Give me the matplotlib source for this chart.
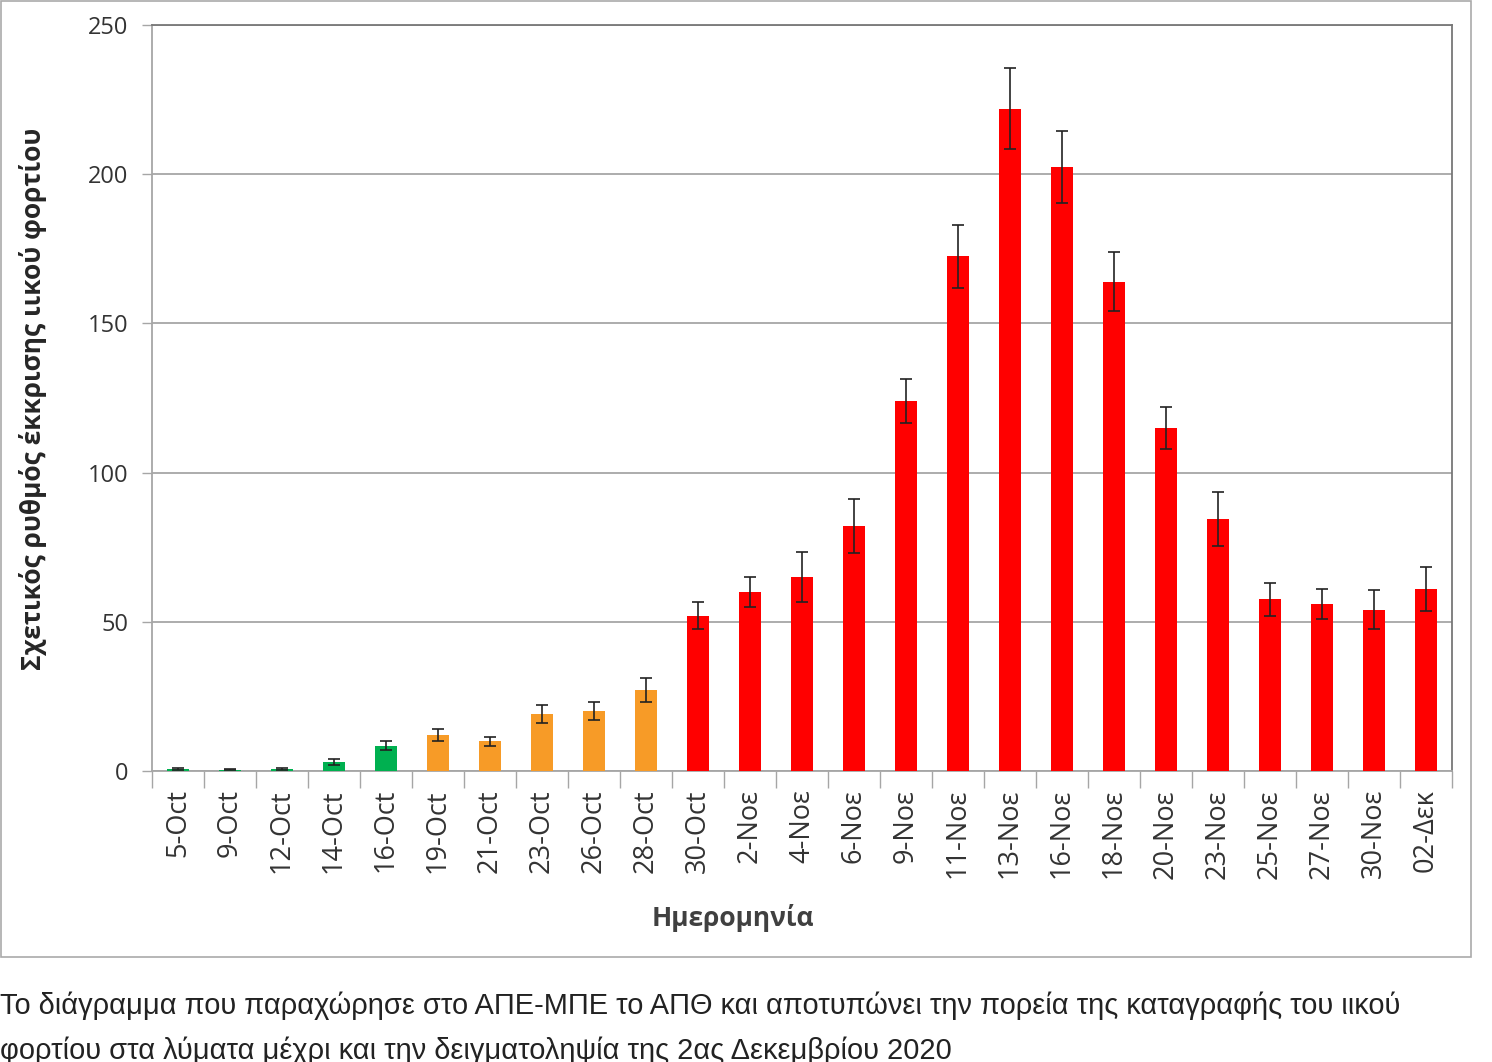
import numpy as np
import matplotlib
matplotlib.use("Agg")
import matplotlib.pyplot as plt
from matplotlib.patches import Rectangle

# δεδομένα
dates = ["5-Oct", "9-Oct", "12-Oct", "14-Oct", "16-Oct", "19-Oct", "21-Oct",
         "23-Oct", "26-Oct", "28-Oct", "30-Oct", "2-Νοε", "4-Νοε", "6-Νοε",
         "9-Νοε", "11-Νοε", "13-Νοε", "16-Νοε", "18-Νοε", "20-Νοε", "23-Νοε",
         "25-Νοε", "27-Νοε", "30-Νοε", "02-Δεκ"]
values = [0.8, 0.5, 0.6, 3.0, 8.5, 12.0, 10.0, 19.0, 20.0, 27.0, 52.0, 60.0,
          65.0, 82.0, 124.0, 172.5, 222.0, 202.5, 164.0, 115.0, 84.5, 57.5,
          56.0, 54.0, 61.0]
errors = [0.3, 0.3, 0.3, 1.0, 1.5, 2.0, 1.5, 3.0, 3.0, 4.0, 4.5, 5.0, 8.5,
          9.0, 7.5, 10.5, 13.5, 12.0, 10.0, 7.0, 9.0, 5.5, 5.0, 6.5, 7.5]
levels = ["g"] * 5 + ["o"] * 5 + ["r"] * 15

colour_map = {"g": "#00B050", "o": "#F79B27", "r": "#FF0000"}
colours = [colour_map[l] for l in levels]

plt.rcParams["font.family"] = ["Open Sans", "DejaVu Sans"]

fig = plt.figure(figsize=(14.92, 10.62), dpi=100)
ax = fig.add_axes([152/1492, 1-771/1062, 1300/1492, 746/1062])

x = np.arange(len(dates))
ax.bar(x, values, width=0.42, color=colours, zorder=3,
       yerr=errors, capsize=4, error_kw=dict(ecolor="#222222", elinewidth=1.2, capthick=1.2, zorder=4))

ax.set_xlim(-0.5, len(dates) - 0.5)
ax.set_ylim(0, 250)
ax.set_yticks([0, 50, 100, 150, 200, 250])
ax.yaxis.grid(True, color="#a6a6a6", lw=1.3, zorder=0)
ax.tick_params(axis="y", labelsize=17, colors="#333333", length=7, width=1, color="#a6a6a6", pad=10)

# κατηγορίες: ticks στα όρια, ετικέτες στο κέντρο
ax.set_xticks(np.arange(-0.5, len(dates)), minor=False)
ax.set_xticklabels([])
ax.set_xticks(x, minor=True)
ax.set_xticklabels(dates, minor=True, rotation=90, fontsize=19.5, color="#333333")
ax.tick_params(axis="x", which="major", length=12, width=1, color="#a6a6a6")
ax.tick_params(axis="x", which="minor", length=0, pad=13)

for s in ["left", "bottom"]:
    ax.spines[s].set_color("#a6a6a6")
    ax.spines[s].set_linewidth(1.3)
for s in ["top", "right"]:
    ax.spines[s].set_color("#777777")
    ax.spines[s].set_linewidth(1.3)

fig.text(733/1492, 1-918/1062, "Ημερομηνία", fontsize=19, fontweight="bold",
         color="#404040", ha="center", va="center")
fig.text(33/1492, 1-399/1062, "Σχετικός ρυθμός έκκρισης ιικού φορτίου", fontsize=19,
         fontweight="bold", color="#262626", rotation=90, ha="center", va="center")

# πλαίσιο γύρω από το διάγραμμα
fig.patches.append(Rectangle((0.5/1492, 1-957/1062), 1470/1492, 956/1062,
                             transform=fig.transFigure, fill=False,
                             edgecolor="#aaaaaa", lw=1.2))

caption1 = "Το διάγραμμα που παραχώρησε στο ΑΠΕ-ΜΠΕ το ΑΠΘ και αποτυπώνει την πορεία της καταγραφής του ιικού"
caption2 = "φορτίου στα λύματα μέχρι και την δειγματοληψία της 2ας Δεκεμβρίου 2020"
fig.text(0.0, 1-1006/1062, caption1, fontsize=20.9, family=["Liberation Sans", "DejaVu Sans"],
         va="center", ha="left", color="#222222")
fig.text(0.0, 1-1051/1062, caption2, fontsize=20.9, family=["Liberation Sans", "DejaVu Sans"],
         va="center", ha="left", color="#222222")

fig.savefig("out.png", dpi=100)
